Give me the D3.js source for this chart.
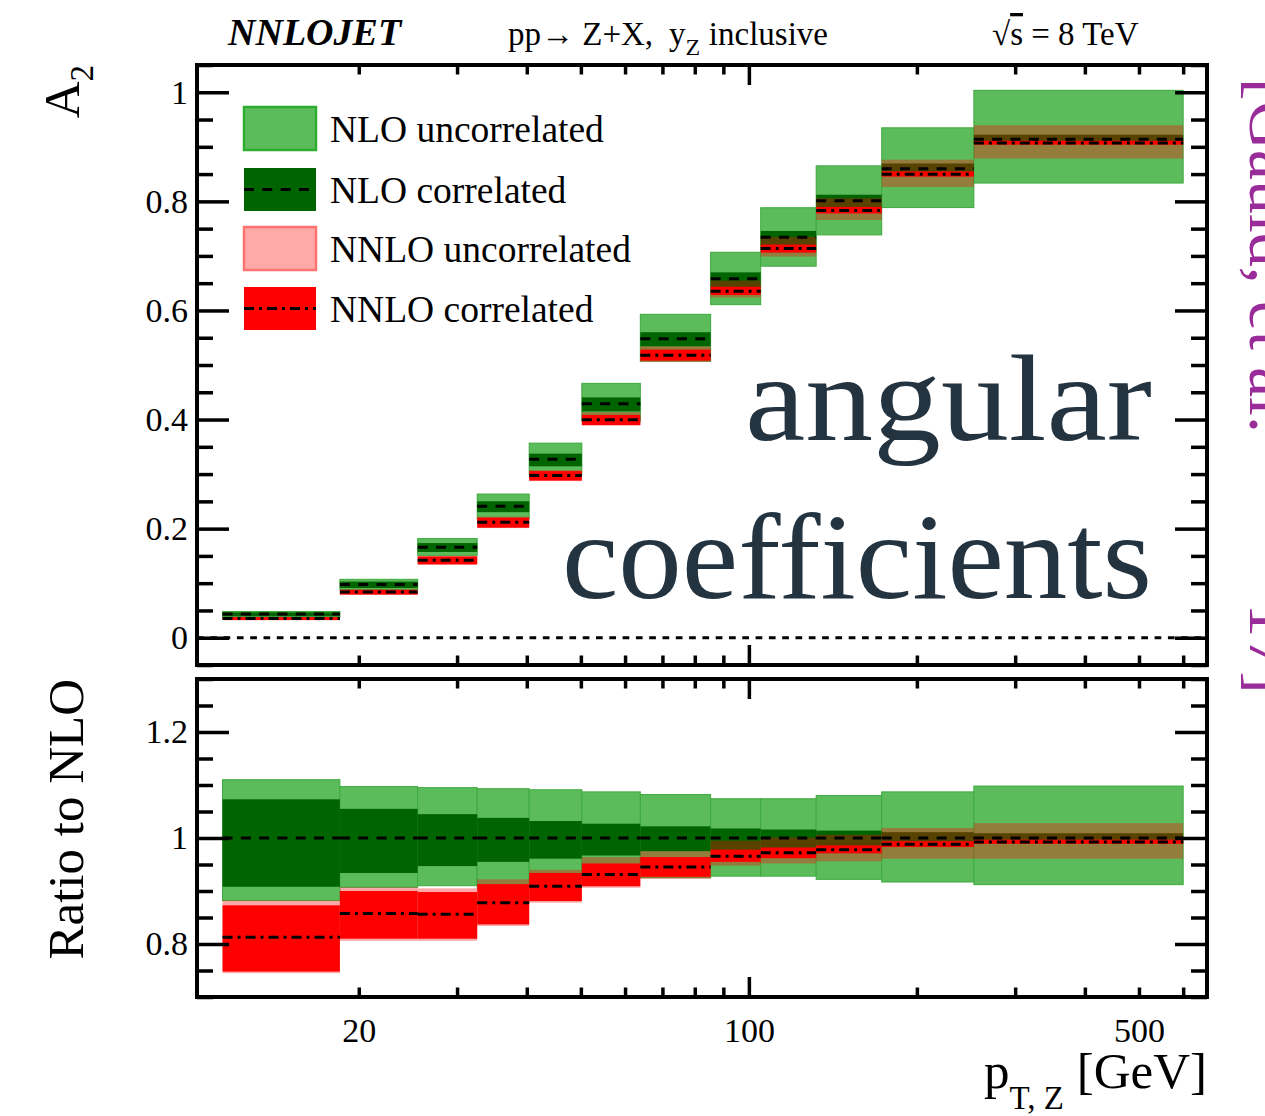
<!DOCTYPE html>
<html>
<head>
<meta charset="utf-8">
<script src="https://cdn.jsdelivr.net/npm/d3@7"></script>
<style>
  html, body { margin: 0; padding: 0; background: #ffffff; }
  svg { display: block; }
  text { font-family: "Liberation Serif", "Times New Roman", serif; fill: #000; }
</style>
</head>
<body>
<svg id="chart" width="1265" height="1116"></svg>
<script>
// ---- Data: A2 angular coefficient vs pT of the Z boson ----
const binEdges   = [11.4, 18.5, 25.5, 32.6, 40.4, 50.2, 63.9, 85.4, 105, 132, 173, 253, 600];
const nloCentral  = [0.0433, 0.0976, 0.166, 0.241, 0.327, 0.429, 0.548, 0.658, 0.734, 0.801, 0.860, 0.914];
const nnloCentral = [0.0352, 0.0837, 0.1421, 0.2116, 0.2972, 0.3994, 0.5179, 0.6353, 0.7134, 0.7834, 0.8497, 0.9071];

// uncertainty bands, expressed relative to the NLO central value
const nloUncLo  = [0.882, 0.907, 0.910, 0.905, 0.915, 0.925, 0.925, 0.928, 0.928, 0.922, 0.917, 0.912];
const nloUncHi  = [1.110, 1.097, 1.095, 1.093, 1.091, 1.087, 1.082, 1.074, 1.074, 1.080, 1.087, 1.098];
const nloCorLo  = [0.908, 0.934, 0.947, 0.955, 0.961, 0.967, 0.975, 0.975, 0.980, 0.985, 0.989, 0.991];
const nloCorHi  = [1.073, 1.055, 1.045, 1.038, 1.032, 1.027, 1.022, 1.018, 1.016, 1.014, 1.011, 1.009];
const nnloUncLo = [0.745, 0.806, 0.806, 0.834, 0.878, 0.906, 0.923, 0.948, 0.952, 0.956, 0.961, 0.961];
const nnloUncHi = [0.882, 0.907, 0.905, 0.922, 0.940, 0.964, 0.975, 0.995, 1.001, 1.006, 1.019, 1.028];
const nnloCorLo = [0.748, 0.810, 0.810, 0.837, 0.881, 0.909, 0.927, 0.955, 0.962, 0.971, 0.983, 0.989];
const nnloCorHi = [0.873, 0.900, 0.898, 0.913, 0.934, 0.952, 0.964, 0.978, 0.982, 0.986, 0.994, 0.997];

// axis ticks and labels
const xMajorTicks = [100];
const xMinorTicks = [20, 30, 40, 50, 60, 70, 80, 90, 200, 300, 400, 500, 600];
const xTickLabels = [20, 100, 500];
const yTopMajor   = [0, 0.2, 0.4, 0.6, 0.8, 1];
const yTopMinor   = [-0.05, 0.05, 0.1, 0.15, 0.25, 0.3, 0.35, 0.45, 0.5, 0.55, 0.65, 0.7, 0.75, 0.85, 0.9, 0.95, 1.05];
const yRatMajor   = [0.8, 1, 1.2];
const yRatMinor   = [0.7, 0.75, 0.85, 0.9, 0.95, 1.05, 1.1, 1.15, 1.25, 1.3];
const legendLabels = ["NLO uncorrelated", "NLO correlated", "NNLO uncorrelated", "NNLO correlated"];

// ---- Layout ----
const L = 197, R = 1207;
const top1 = 65, bot1 = 665;     // main panel
const top2 = 679, bot2 = 997;    // ratio panel

const COL = {
  nloUnc: "#5cbc5c", nloUncEdge: "#3caa3c",
  nloCor: "#006400",
  nnloUnc: "rgba(255,0,0,0.34)",
  nnloCor: "#ff0000"
};

const svg = d3.select("#chart");

const x = d3.scaleLog().domain([10.26, 662]).range([L, R]);
const yTop = d3.scaleLinear().domain([-0.05, 1.05]).range([bot1, top1]);
const yRat = d3.scaleLinear().domain([0.7, 1.3]).range([bot2, top2]);

const bins = nloCentral.map((c, i) => ({
  x0: binEdges[i], x1: binEdges[i + 1], nlo: c, nnlo: nnloCentral[i],
  nloUnc: [nloUncLo[i], nloUncHi[i]], nloCor: [nloCorLo[i], nloCorHi[i]],
  nnloUnc: [nnloUncLo[i], nnloUncHi[i]], nnloCor: [nnloCorLo[i], nnloCorHi[i]]
}));

// draw the bands of one panel; `val` turns a relative value into that panel's y value
function drawBands(g, y, val) {
  const layers = [
    { key: "nloUnc", fill: COL.nloUnc, stroke: COL.nloUncEdge },
    { key: "nloCor", fill: COL.nloCor, stroke: null },
    { key: "nnloUnc", fill: COL.nnloUnc, stroke: null },
    { key: "nnloCor", fill: COL.nnloCor, stroke: null }
  ];
  layers.forEach(layer => {
    g.append("g").selectAll("rect").data(bins).join("rect")
      .attr("x", d => x(d.x0))
      .attr("width", d => x(d.x1) - x(d.x0))
      .attr("y", d => y(val(d, d[layer.key][1])))
      .attr("height", d => y(val(d, d[layer.key][0])) - y(val(d, d[layer.key][1])))
      .attr("fill", layer.fill)
      .attr("stroke", layer.stroke || "none")
      .attr("stroke-width", layer.stroke ? 1 : 0);
  });
  // central values
  g.append("g").selectAll("line").data(bins).join("line")
    .attr("x1", d => x(d.x0)).attr("x2", d => x(d.x1))
    .attr("y1", d => y(val(d, 1))).attr("y2", d => y(val(d, 1)))
    .attr("stroke", "#000").attr("stroke-width", 3).attr("stroke-dasharray", "10,8.3");
  g.append("g").selectAll("line").data(bins).join("line")
    .attr("x1", d => x(d.x0)).attr("x2", d => x(d.x1))
    .attr("y1", d => y(val(d, d.nnlo / d.nlo))).attr("y2", d => y(val(d, d.nnlo / d.nlo)))
    .attr("stroke", "#000").attr("stroke-width", 3).attr("stroke-dasharray", "10,5,3,5");
}

const gTop = svg.append("g");
drawBands(gTop, yTop, (d, r) => d.nlo * r);
gTop.append("line")
  .attr("x1", L).attr("x2", R).attr("y1", yTop(0)).attr("y2", yTop(0))
  .attr("stroke", "#000").attr("stroke-width", 3).attr("stroke-dasharray", "6.7,6.6");

const gRat = svg.append("g");
drawBands(gRat, yRat, (d, r) => r);

// ---- Axes, ticks and frames ----
function styleAxis(g) {
  g.select(".domain").remove();
  g.selectAll(".tick line").attr("stroke", "#000").attr("stroke-width", 3.5);
  g.selectAll(".tick text").attr("font-family", "Liberation Serif").attr("font-size", 34).attr("fill", "#000");
}
function yTicks(y, major, minor, labelled) {
  svg.append("g").attr("transform", `translate(${L},0)`)
    .call(d3.axisLeft(y).tickValues(major).tickSize(-32).tickPadding(9)
      .tickFormat(labelled ? (d => String(d)) : ""))
    .call(styleAxis);
  svg.append("g").attr("transform", `translate(${L},0)`)
    .call(d3.axisLeft(y).tickValues(minor).tickSize(-16).tickFormat(""))
    .call(styleAxis);
  svg.append("g").attr("transform", `translate(${R},0)`)
    .call(d3.axisRight(y).tickValues(major).tickSize(-32).tickFormat(""))
    .call(styleAxis);
  svg.append("g").attr("transform", `translate(${R},0)`)
    .call(d3.axisRight(y).tickValues(minor).tickSize(-16).tickFormat(""))
    .call(styleAxis);
}
function xTicks(yTopEdge, yBotEdge) {
  [[xMajorTicks, 20], [xMinorTicks, 9.5]].forEach(([vals, len]) => {
    svg.append("g").attr("transform", `translate(0,${yBotEdge})`)
      .call(d3.axisBottom(x).tickValues(vals).tickSize(-len).tickFormat(""))
      .call(styleAxis);
    svg.append("g").attr("transform", `translate(0,${yTopEdge})`)
      .call(d3.axisTop(x).tickValues(vals).tickSize(-len).tickFormat(""))
      .call(styleAxis);
  });
}
yTicks(yTop, yTopMajor, yTopMinor, true);
yTicks(yRat, yRatMajor, yRatMinor, true);
xTicks(top1, bot1);
xTicks(top2, bot2);

svg.append("g").attr("transform", `translate(0,${bot2})`)
  .call(d3.axisBottom(x).tickValues(xTickLabels).tickSize(0).tickPadding(21)
    .tickFormat(d => String(d)))
  .call(styleAxis);

[[top1, bot1], [top2, bot2]].forEach(([t, b]) => {
  svg.append("rect").attr("x", L).attr("y", t).attr("width", R - L).attr("height", b - t)
    .attr("fill", "none").attr("stroke", "#000").attr("stroke-width", 4);
});

// ---- Axis titles ----
const aTitle = svg.append("text").attr("transform", `translate(79,${top1}) rotate(-90)`)
  .attr("text-anchor", "end").attr("font-size", 51);
aTitle.append("tspan").text("A");
aTitle.append("tspan").attr("font-size", 33).attr("dy", 14).text("2");

svg.append("text").attr("transform", `translate(83,${top2}) rotate(-90)`)
  .attr("text-anchor", "end").attr("font-size", 51).text("Ratio to NLO");

const xTitle = svg.append("text").attr("x", R).attr("y", 1088)
  .attr("text-anchor", "end").attr("font-size", 51);
xTitle.append("tspan").text("p");
xTitle.append("tspan").attr("font-size", 33).attr("dy", 21).text("T, Z");
xTitle.append("tspan").attr("dy", -21).text(" [GeV]");

// ---- Header ----
svg.append("text").attr("x", 228).attr("y", 45).attr("font-size", 38)
  .attr("font-weight", "bold").attr("font-style", "italic").text("NNLOJET");
svg.append("text").attr("x", 508).attr("y", 45).attr("font-size", 33).text("pp\u2192 Z+X,");
const yz = svg.append("text").attr("x", 669).attr("y", 45).attr("font-size", 33);
yz.append("tspan").text("y");
yz.append("tspan").attr("font-size", 24).attr("dy", 10).text("Z");
svg.append("text").attr("x", 828).attr("y", 45).attr("font-size", 33)
  .attr("text-anchor", "end").text("inclusive");
const energy = svg.append("text").attr("x", 992).attr("y", 45).attr("font-size", 33);
energy.append("tspan").text("\u221A");
energy.append("tspan").attr("text-decoration", "overline").text("s");
energy.append("tspan").text(" = 8 TeV");

// ---- Legend ----
const legY = [107, 168, 227, 287];
const legBoxH = 43;
const legStyles = [
  { fill: COL.nloUnc, stroke: "#2eae2e", dash: null },
  { fill: COL.nloCor, stroke: null, dash: "10,8.3" },
  { fill: "#ffa9a9", stroke: "#ff7272", dash: null },
  { fill: COL.nnloCor, stroke: null, dash: "10,5,3,5" }
];
legendLabels.forEach((lab, i) => {
  const s = legStyles[i];
  svg.append("rect").attr("x", 244).attr("y", legY[i]).attr("width", 72).attr("height", legBoxH)
    .attr("fill", s.fill).attr("stroke", s.stroke || "none").attr("stroke-width", s.stroke ? 2.5 : 0);
  if (s.dash) {
    svg.append("line").attr("x1", 244).attr("x2", 316)
      .attr("y1", legY[i] + legBoxH / 2).attr("y2", legY[i] + legBoxH / 2)
      .attr("stroke", "#000").attr("stroke-width", 3).attr("stroke-dasharray", s.dash);
  }
  svg.append("text").attr("x", 330).attr("y", legY[i] + 35).attr("font-size", 37.5).text(lab);
});

// ---- Title text over the plot ----
svg.append("text").attr("x", 745).attr("y", 440).attr("font-size", 122)
  .attr("textLength", 407).attr("lengthAdjust", "spacingAndGlyphs")
  .style("fill", "#233340").text("angular");
svg.append("text").attr("x", 562).attr("y", 598).attr("font-size", 122)
  .attr("textLength", 590).attr("lengthAdjust", "spacingAndGlyphs")
  .style("fill", "#233340").text("coefficients");

// ---- Reference note along the right edge ----
const noteFont = { family: "DejaVu Sans", size: 68, fill: "#9a2c9a" };
svg.append("text").attr("transform", "translate(1250,78) rotate(90)")
  .attr("font-family", noteFont.family).attr("font-size", noteFont.size)
  .style("fill", noteFont.fill).text("[Gauld, et al.");
svg.append("text").attr("transform", "translate(1250,694) rotate(90)")
  .attr("text-anchor", "end")
  .attr("font-family", noteFont.family).attr("font-size", noteFont.size)
  .style("fill", noteFont.fill).text("\u201917]");
</script>
</body>
</html>
